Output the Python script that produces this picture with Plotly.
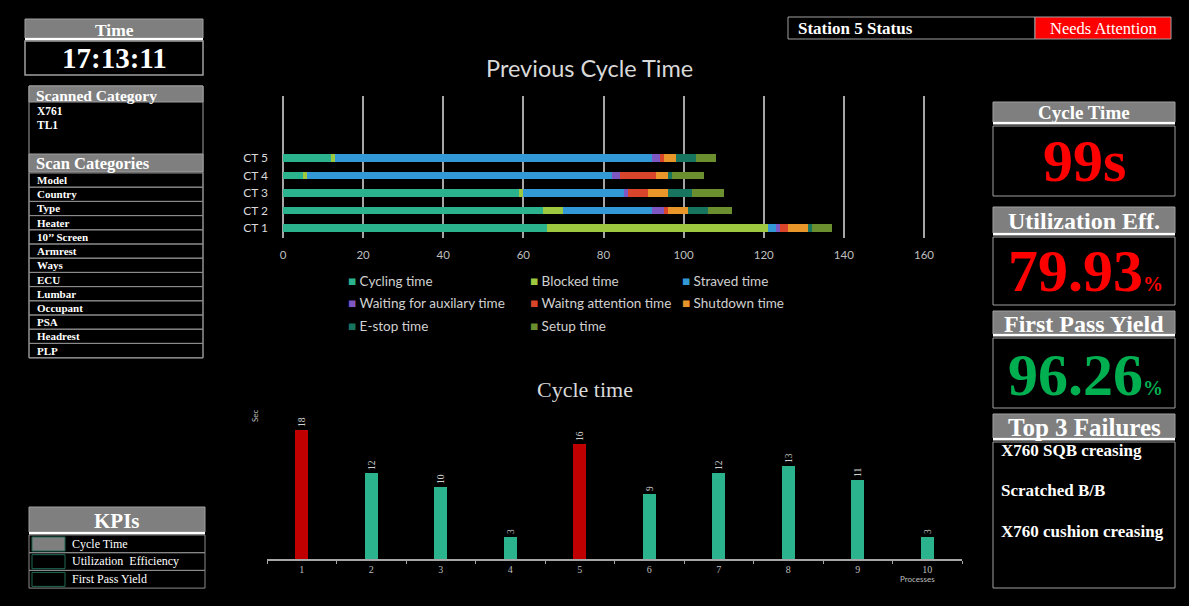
import plotly.graph_objects as go

W, H = 1189, 606

# ---- Previous cycle time breakdown (seconds per state) ----
cycles = ["CT 1", "CT 2", "CT 3", "CT 4", "CT 5"]
cycling_time = [66, 65, 59, 5, 12]
blocked_time = [55, 5, 1, 1, 1]
starved_time = [2, 22, 25, 76, 79]
aux_wait_time = [1, 3, 1, 2, 2]
attention_time = [2, 1, 5, 9, 1]
shutdown_time = [5, 5, 5, 3, 3]
estop_time = [1, 5, 6, 1, 5]
setup_time = [5, 6, 8, 8, 5]

state_names = ["Cycling time", "Blocked time", "Straved time",
               "Waiting for auxilary time", "Waitng attention time", "Shutdown time",
               "E-stop time", "Setup time"]
state_colors = ["#2bb38e", "#9dc83f", "#3399d6", "#7e57c2", "#d9452a", "#e8962a",
                "#17745f", "#6b8e2e"]
state_values = [cycling_time, blocked_time, starved_time, aux_wait_time,
                attention_time, shutdown_time, estop_time, setup_time]

# ---- Cycle time per process ----
processes = ["1", "2", "3", "4", "5", "6", "7", "8", "9", "10"]
process_seconds = [18, 12, 10, 3, 16, 9, 12, 13, 11, 3]
limit_seconds = 15

# ---- Dashboard texts ----
clock_text = "17:13:11"
scanned = ["X761", "TL1"]
scan_categories = ["Model", "Country", "Type", "Heater", "10\u2019\u2019 Screen", "Armrest",
                   "Ways", "ECU", "Lumbar", "Occupant", "PSA", "Headrest", "PLP"]
kpi_names = ["Cycle Time", "Utilization  Efficiency", "First Pass Yield"]
cycle_time_kpi = "99s"
utilization_kpi = "79.93"
fpy_kpi = "96.26"
top_failures = ["X760 SQB creasing", "Scratched B/B", "X760 cushion creasing"]
station_label = "Station 5 Status"
station_state = "Needs Attention"

SERIF = "Liberation Serif"
SANS = "Lato"
GREY_HDR = "#7f7f7f"
BORDER = "#a0a0a0"


def px(x):
    return x / W


def py(y):
    return 1 - y / H


shapes = []
annotations = []


def rect(x0, y0, x1, y1, fill="rgba(0,0,0,0)", line=BORDER, lw=1):
    shapes.append(dict(type="rect", xref="paper", yref="paper",
                       x0=px(x0), x1=px(x1), y0=py(y1), y1=py(y0),
                       fillcolor=fill, line=dict(color=line, width=lw), layer="below"))


def text(x, y, s, size, color="white", font=SERIF, bold=False, anchor="center", angle=0):
    annotations.append(dict(xref="paper", yref="paper", x=px(x), y=py(y),
                            text=f"<b>{s}</b>" if bold else s, showarrow=False,
                            xanchor=anchor, yanchor="middle", textangle=angle,
                            font=dict(family=font, size=size, color=color)))


def header(x0, y0, x1, y1, title, size, white_line=True, left=False):
    rect(x0, y0, x1, y1, fill=GREY_HDR, line=BORDER)
    if white_line:
        rect(x0, y1, x1, y1 + 2.5, fill="white", line="white", lw=0)
    if left:
        text(x0 + 5, (y0 + y1) / 2 + 1, title, size, bold=True, anchor="left")
    else:
        text((x0 + x1) / 2, (y0 + y1) / 2 + 1, title, size, bold=True)


fig = go.Figure()

# Stacked horizontal bars
for name, color, vals in zip(state_names, state_colors, state_values):
    fig.add_trace(go.Bar(y=cycles, x=vals, orientation="h", name=name,
                         marker=dict(color=color, line=dict(width=0)),
                         width=0.45, xaxis="x", yaxis="y", showlegend=False))

# Process cycle-time columns
bar_colors = ["#c00000" if v > limit_seconds else "#2bb38e" for v in process_seconds]
fig.add_trace(go.Bar(x=processes, y=process_seconds, marker=dict(color=bar_colors, line=dict(width=0)),
                     width=0.19, text=[str(v) for v in process_seconds],
                     textposition="outside", textangle=-90, cliponaxis=False,
                     textfont=dict(family=SERIF, size=9.5, color="#d0d0d0"),
                     xaxis="x2", yaxis="y2", showlegend=False))

# ---- Left column panels ----
header(25, 19, 203, 38, "Time", 17.5)
rect(25, 41, 203, 75, line=BORDER, lw=1.5)
text(114, 58, clock_text, 29, bold=True)

rect(29, 86, 203, 358, line=BORDER)
header(29, 86, 203, 102, "Scanned Category", 15.5, white_line=False, left=True)
for i, s in enumerate(scanned):
    text(35, 111 + 14 * i, s, 11.5, bold=True, anchor="left")
header(29, 154, 203, 172, "Scan Categories", 16.5, white_line=False, left=True)
row_top, row_h = 173, 14.2
for i, s in enumerate(scan_categories):
    y0 = row_top + i * row_h
    rect(29, y0, 203, y0 + row_h, line="#8c8c8c")
    text(35, y0 + row_h / 2, s, 11, bold=True, anchor="left")

header(29, 507, 205, 532, "KPIs", 21)
for i, s in enumerate(kpi_names):
    y0 = 535 + i * 17.7
    rect(29, y0, 205, y0 + 17.7, line="#8c8c8c")
    rect(32, y0 + 2, 65, y0 + 16, fill=GREY_HDR if i == 0 else "black", line="#1e6b55")
    text(70, y0 + 8.5, s, 12, anchor="left")

# ---- Station status ----
rect(788, 17, 1035, 39, fill="black", line=BORDER)
rect(1035, 17, 1171, 39, fill="#ff0000", line=BORDER)
text(796, 28, station_label, 17, bold=True, anchor="left")
text(1103, 28, station_state, 16.5)

# ---- Right column KPI tiles ----
header(993, 102, 1175, 122, "Cycle Time", 19)
rect(993, 126, 1175, 196)
text(1084, 161, cycle_time_kpi, 60, color="#ff0000", bold=True)

header(993, 207, 1175, 233, "Utilization Eff.", 24)
rect(993, 237, 1175, 305)
text(1085, 271, utilization_kpi + '<span style="font-size:20px">%</span>', 60,
     color="#ff0000", bold=True)

header(993, 311, 1175, 334, "First Pass Yield", 24)
rect(993, 338, 1175, 408)
text(1085, 375, fpy_kpi + '<span style="font-size:20px">%</span>', 60,
     color="#00b050", bold=True)

header(993, 414, 1175, 438, "Top 3 Failures", 25)
rect(993, 442, 1175, 588)
for i, s in enumerate(top_failures):
    text(999, 450 + 40.5 * i, s, 17, bold=True, anchor="left")

# ---- Chart titles and legend ----
text(589, 68, "Previous Cycle Time", 23.5, color="#d9d9d9", font=SANS)
text(585, 389, "Cycle time", 22, color="#d9d9d9")
legend_cols = [346, 528, 680]
legend_rows = [281, 303, 326]
for i, (name, color) in enumerate(zip(state_names, state_colors)):
    x = legend_cols[i % 3]
    y = legend_rows[i // 3]
    text(x, y, f'<span style="color:{color}">\u25A0</span> {name}', 13.5,
         color="#d0d0d0", font=SANS, anchor="left")
text(255, 416, "Sec", 8, color="#bfbfbf", font=SANS, angle=-90)
text(918, 579, "Processes", 8, color="#bfbfbf", font=SANS)

fig.update_layout(
    template="none",
    width=W, height=H, autosize=False,
    margin=dict(l=0, r=0, t=0, b=0, pad=0, autoexpand=False),
    paper_bgcolor="black", plot_bgcolor="black",
    barmode="stack", bargap=0,
    shapes=shapes, annotations=annotations,
    xaxis=dict(domain=[px(283), px(930)], range=[0, 161.5], tickvals=list(range(0, 161, 20)),
               showgrid=True, gridcolor="#a6a6a6", gridwidth=1.5,
               zeroline=True, zerolinecolor="#a6a6a6", zerolinewidth=1.5,
               showline=False, ticks="", ticklabelstandoff=8, automargin=False,
               tickfont=dict(family=SANS, size=11.5, color="#bfbfbf"),
               anchor="y", fixedrange=True),
    yaxis=dict(domain=[py(238), py(96)], type="category", range=[-0.57, 7.54],
               showgrid=False, zeroline=False, showline=False, ticks="",
               ticklabelstandoff=14, automargin=False,
               tickfont=dict(family=SANS, size=12, color="#d9d9d9"),
               anchor="x", fixedrange=True),
    xaxis2=dict(domain=[px(267), px(962)], type="category",
                showgrid=False, zeroline=False, showline=True,
                linecolor="#a6a6a6", linewidth=2, automargin=False,
                tickson="boundaries", ticks="outside", ticklen=3, tickcolor="#a6a6a6",
                tickfont=dict(family=SERIF, size=10, color="#bfbfbf"),
                anchor="y2", fixedrange=True),
    yaxis2=dict(domain=[py(559), py(401)], range=[0, 22], visible=False,
                automargin=False, anchor="x2", fixedrange=True),
)

fig.write_html("out.html")
